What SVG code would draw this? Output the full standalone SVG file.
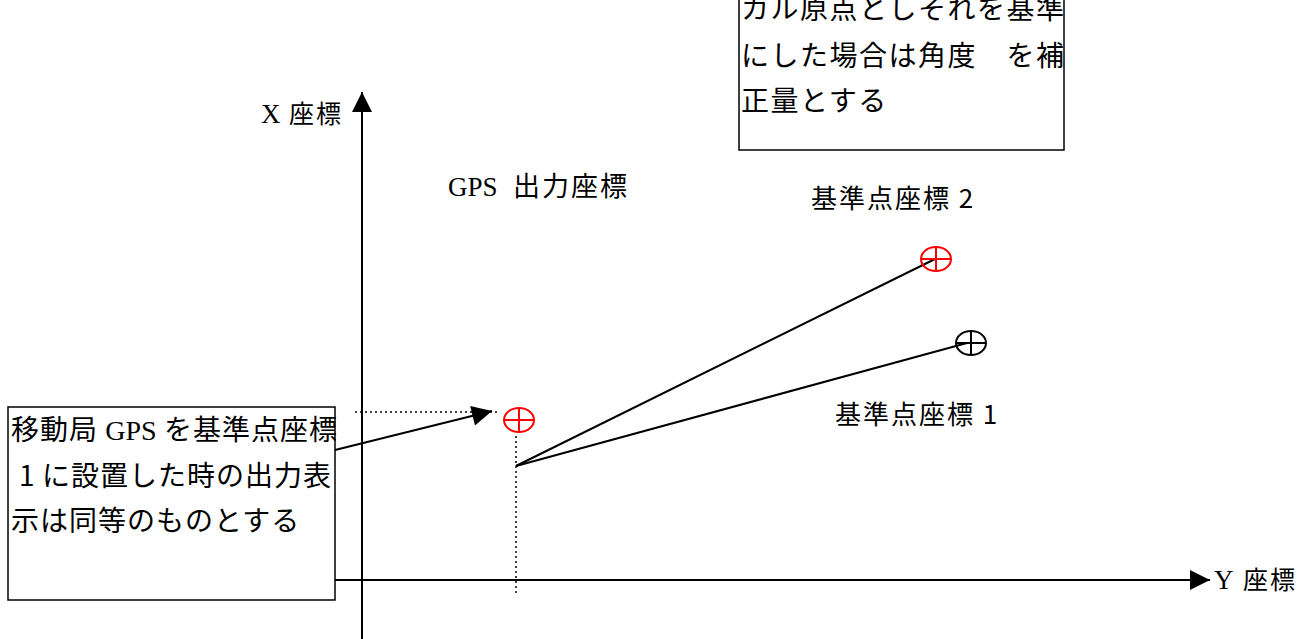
<svg xmlns="http://www.w3.org/2000/svg" width="1300" height="639" viewBox="0 0 1300 639">
<style>
.t{font-family:"Noto Sans CJK JP","Liberation Sans",sans-serif;font-size:28px;fill:#000;letter-spacing:1px}
.l{font-family:"Noto Sans CJK JP","Liberation Sans",sans-serif;font-size:26px;fill:#000;letter-spacing:2px}
.s{font-family:"Liberation Serif","Noto Sans CJK JP",serif;letter-spacing:0}
.box{fill:#fff;stroke:#000;stroke-width:1.5}
.ln{stroke:#000;stroke-width:2;fill:none}
.dot{stroke:#000;stroke-width:1.5;stroke-dasharray:2 3;fill:none}
.cr{fill:none;stroke:#f00;stroke-width:2}
.cb{fill:none;stroke:#000;stroke-width:2}
</style>
<defs>
<marker id="ahb" viewBox="0 0 10 10" refX="10" refY="5" markerWidth="22" markerHeight="20" orient="auto" markerUnits="userSpaceOnUse">
<path d="M0,0 L10,5 L0,10 z" fill="#000"/>
</marker>
</defs>
<g id="connectors">
<line class="ln" x1="362" y1="639" x2="362" y2="92" marker-end="url(#ahb)"/>
<line class="ln" x1="335" y1="580" x2="1210" y2="580" marker-end="url(#ahb)"/>
<line class="dot" x1="355" y1="412" x2="500" y2="412"/>
<line class="dot" x1="516" y1="436" x2="516" y2="596"/>
<line class="ln" x1="516" y1="466" x2="935" y2="259"/>
<line class="ln" x1="516" y1="466" x2="967" y2="343"/>
<line class="ln" x1="335" y1="450" x2="492" y2="411" marker-end="url(#ahb)"/>
</g>
<g id="note-top">
<rect class="box" x="739" y="-10" width="325" height="160"/>
<text class="t" x="741" y="19" style="letter-spacing:1.5px">カル原点としそれを基準</text>
<text class="t" x="741" y="66" style="letter-spacing:1.5px">にした場合は角度　を補</text>
<text class="t" x="741" y="111" style="letter-spacing:1.5px">正量とする</text>
</g>
<g id="note-left">
<rect class="box" x="8" y="407" width="327" height="193"/>
<text class="t" x="11" y="440">移動局 <tspan class="s">GPS</tspan> を基準点座標</text>
<text class="t" x="19" y="486">1<tspan x="42">に設置した時の出力表</tspan></text>
<text class="t" x="11" y="531">示は同等のものとする</text>
</g>
<g id="x-label"><text class="l" x="261" y="123" style="font-size:25px"><tspan class="s" style="font-size:27px">X</tspan> <tspan x="289">座標</tspan></text></g>
<g id="y-label"><text class="l" x="1214" y="589" style="font-size:25px"><tspan class="s" style="font-size:27px">Y</tspan> <tspan x="1243">座標</tspan></text></g>
<g id="gps-label"><text class="l" x="448" y="196" style="font-size:27px"><tspan class="s">GPS</tspan> <tspan x="513">出力座標</tspan></text></g>
<g id="ref2-label"><text class="l" x="811" y="208">基準点座標 2</text></g>
<g id="ref1-label"><text class="l" x="835" y="424">基準点座標 1</text></g>
<g id="gps-point">
<ellipse class="cr" cx="519" cy="420" rx="15" ry="12"/>
<line class="cr" x1="504" y1="420" x2="534" y2="420"/>
<line class="cr" x1="519" y1="408" x2="519" y2="432"/>
</g>
<g id="ref2-point">
<ellipse class="cr" cx="936" cy="259" rx="15" ry="12"/>
<line class="cr" x1="921" y1="259" x2="951" y2="259"/>
<line class="cr" x1="936" y1="247" x2="936" y2="271"/>
</g>
<g id="ref1-point">
<ellipse class="cb" cx="971" cy="343" rx="15" ry="12"/>
<line class="cb" x1="956" y1="343" x2="986" y2="343"/>
<line class="cb" x1="971" y1="331" x2="971" y2="355"/>
</g>
</svg>
